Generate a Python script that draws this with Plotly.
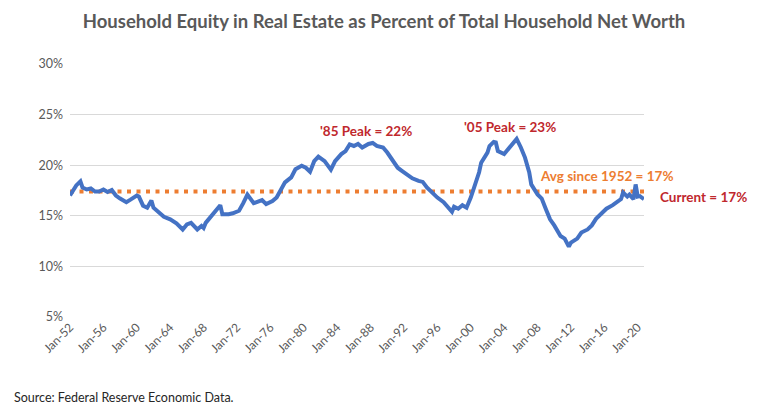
import plotly.graph_objects as go

dates = [
    "1952-01-01", "1952-04-01", "1952-07-01", "1952-10-01", "1953-04-01", "1953-07-01",
    "1954-01-01", "1954-07-01", "1955-01-01", "1955-07-01", "1956-01-01", "1956-07-01",
    "1957-01-01", "1957-07-01", "1958-01-01", "1958-10-01", "1959-04-01", "1960-01-01",
    "1960-04-01", "1960-10-01", "1961-04-01", "1961-10-01", "1962-01-01", "1962-10-01",
    "1963-04-01", "1964-01-01", "1964-10-01", "1965-07-01", "1966-01-01", "1966-07-01",
    "1967-01-01", "1967-04-01", "1967-10-01", "1968-01-01", "1968-04-01", "1969-01-01",
    "1969-07-01", "1970-01-01", "1970-04-01", "1971-01-01", "1971-07-01", "1972-04-01",
    "1972-10-01", "1973-04-01", "1974-01-01", "1974-04-01", "1975-01-01", "1975-07-01",
    "1976-04-01", "1976-10-01", "1977-04-01", "1977-10-01", "1978-07-01", "1979-01-01",
    "1979-10-01", "1980-04-01", "1980-10-01", "1981-04-01", "1981-10-01", "1982-07-01",
    "1983-04-01", "1983-10-01", "1984-07-01", "1985-01-01", "1985-07-01", "1986-01-01",
    "1986-07-01", "1987-01-01", "1987-10-01", "1988-04-01", "1988-10-01", "1989-07-01",
    "1990-01-01", "1990-10-01", "1991-04-01", "1991-10-01", "1992-07-01", "1993-01-01",
    "1993-10-01", "1994-04-01", "1994-10-01", "1995-07-01", "1996-01-01", "1996-10-01",
    "1997-04-01", "1997-10-01", "1998-01-01", "1998-07-01", "1999-01-01", "1999-07-01",
    "2000-01-01", "2000-07-01", "2001-01-01", "2001-04-01", "2002-01-01", "2002-04-01",
    "2002-10-01", "2003-01-01", "2003-04-01", "2004-01-01", "2004-07-01", "2005-01-01",
    "2005-07-01", "2006-01-01", "2006-07-01", "2007-01-01", "2007-04-01", "2008-01-01",
    "2008-07-01", "2009-01-01", "2009-07-01", "2010-01-01", "2010-10-01", "2011-04-01",
    "2011-10-01", "2012-01-01", "2012-10-01", "2013-04-01", "2014-01-01", "2014-07-01",
    "2015-01-01", "2015-10-01", "2016-04-01", "2017-01-01", "2017-07-01", "2018-01-01",
    "2018-04-01", "2018-10-01", "2019-01-01", "2019-07-01", "2019-10-01", "2020-01-01",
    "2020-04-01", "2020-10-01",
]

equity_pct = [
    17.0, 17.3, 17.7, 18.0, 18.4, 17.8,
    17.6, 17.7, 17.4, 17.4, 17.6, 17.35,
    17.55, 17.0, 16.7, 16.35, 16.6, 17.0,
    16.9, 16.0, 15.8, 16.5, 15.8, 15.3,
    14.9, 14.65, 14.25, 13.65, 14.15, 14.3,
    13.8, 13.65, 14.0, 13.8, 14.3, 15.05,
    15.5, 16.05, 15.15, 15.15, 15.25, 15.5,
    16.25, 17.1, 16.25, 16.3, 16.55, 16.15,
    16.45, 16.8, 17.55, 18.3, 18.8, 19.6,
    19.95, 19.75, 19.35, 20.4, 20.85, 20.4,
    19.55, 20.4, 21.1, 21.4, 22.05, 21.9,
    22.1, 21.75, 22.1, 22.2, 21.9, 21.75,
    21.25, 20.4, 19.75, 19.45, 18.95, 18.7,
    18.45, 18.35, 17.8, 17.2, 16.8, 16.35,
    15.8, 15.4, 15.9, 15.7, 16.05, 15.8,
    16.8, 17.95, 19.3, 20.25, 21.25, 21.9,
    22.3, 22.25, 21.4, 21.1, 21.6, 22.2,
    22.6, 21.75, 20.75, 19.3, 18.1, 17.1,
    16.7, 15.65, 14.65, 14.05, 13.0, 12.75,
    11.95, 12.35, 12.75, 13.35, 13.65, 14.05,
    14.7, 15.3, 15.7, 16.05, 16.3, 16.65,
    17.3, 16.9, 17.1, 16.65, 18.1, 16.9,
    16.95, 16.65,
]

avg_since_1952 = 17.4
y_ticks = [5, 10, 15, 20, 25, 30]

BLUE = "#4472C4"
ORANGE = "#ED7D31"
RED = "#C0282D"
GREY = "#595959"
FONT = "Lato"

# plot area in page pixels (page body has an 8px margin)
PL, PT, PW, PH = 62, 56, 574, 253

fig = go.Figure()

fig.add_trace(go.Scatter(
    x=[dates[0], dates[-1]], y=[avg_since_1952, avg_since_1952],
    mode="lines", line=dict(color=ORANGE, width=4, dash="4px,5.5px"),
    hoverinfo="skip", showlegend=False,
))
fig.add_trace(go.Scatter(
    x=dates, y=equity_pct, mode="lines",
    line=dict(color=BLUE, width=4),
    showlegend=False,
))

annots = [
    dict(x="1987-07-01", y=23.4, text="'85 Peak = 22%", color=RED, xanchor="center"),
    dict(x="2004-10-01", y=23.8, text="'05 Peak = 23%", color=RED, xanchor="center"),
    dict(x="2008-01-01", y=18.9, text="Avg since 1952 = 17%", color=ORANGE, xanchor="left"),
]
for a in annots:
    fig.add_annotation(
        x=a["x"], y=a["y"], xref="x", yref="y", text="<b>%s</b>" % a["text"],
        showarrow=False, xanchor=a["xanchor"], yanchor="middle",
        font=dict(family=FONT, size=13.5, color=a["color"]),
    )
fig.add_annotation(
    x=1.024, xref="paper", y=16.85, yref="y", text="<b>Current = 17%</b>",
    showarrow=False, xanchor="left", yanchor="middle",
    font=dict(family=FONT, size=13.5, color=RED),
)
fig.add_annotation(
    x=-58 / PW, xref="paper", y=-80 / PH, yref="paper",
    text="Source: Federal Reserve Economic Data.",
    showarrow=False, xanchor="left", yanchor="middle",
    font=dict(family=FONT, size=12.5, color="#262626"),
)

fig.update_layout(
    width=768, height=413,
    margin=dict(l=PL, r=768 - PL - PW, t=PT, b=413 - PT - PH),
    paper_bgcolor="white", plot_bgcolor="white",
    title=dict(
        text="<b>Household Equity in Real Estate as Percent of Total Household Net Worth</b>",
        x=(384 - 8) / 768, xanchor="center", y=1 - 14 / 413, yanchor="middle",
        font=dict(family=FONT, size=18.5, color=GREY),
    ),
    font=dict(family=FONT, color=GREY),
)

fig.update_xaxes(
    type="date", range=["1952-01-01", "2020-10-01"],
    tick0="1952-01-01", dtick="M48", tickformat="%b-%y",
    tickangle=-45, showgrid=False, showline=False, zeroline=False,
    ticks="", tickfont=dict(family=FONT, size=12, color=GREY),
)
fig.update_yaxes(
    range=[5, 30], tickvals=y_ticks, ticktext=["%d%%" % v for v in y_ticks],
    showgrid=True, gridcolor="#D9D9D9", gridwidth=1, zeroline=False,
    showline=False, ticks="", ticklabelstandoff=6,
    tickfont=dict(family=FONT, size=12.5, color=GREY),
)

fig.write_html("out.html")
